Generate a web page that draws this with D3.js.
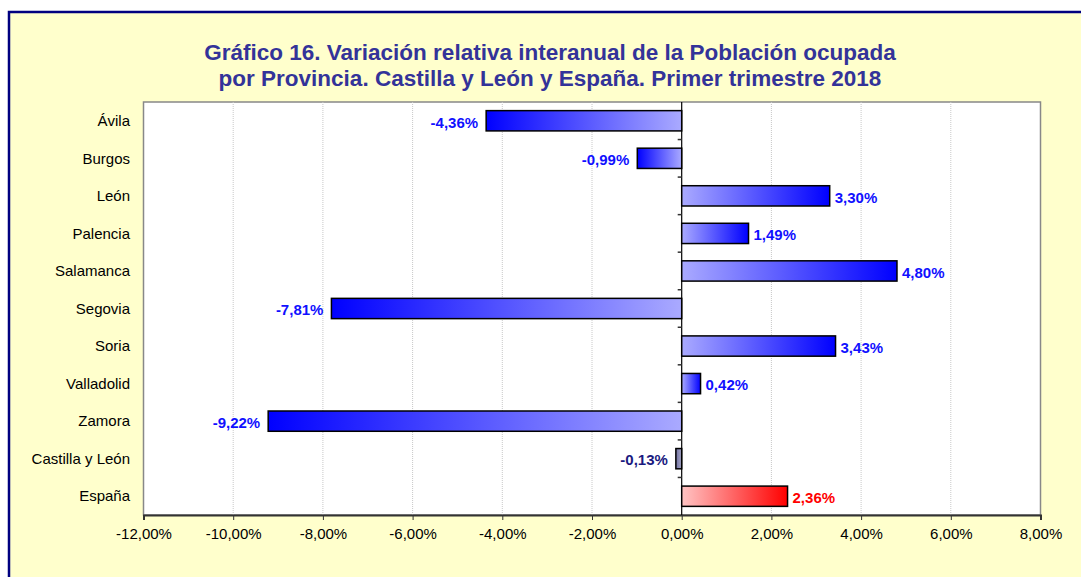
<!DOCTYPE html>
<html><head><meta charset="utf-8">
<script src="https://cdn.jsdelivr.net/npm/d3@7"></script>
<style>body{margin:0;background:#fff}svg{display:block;font-family:"Liberation Sans",Arial,sans-serif}</style>
</head><body>
<svg id="c" width="1081" height="577"></svg>
<script>
const categories = ["Ávila","Burgos","León","Palencia","Salamanca","Segovia","Soria","Valladolid","Zamora","Castilla y León","España"];
const values = [-4.36,-0.99,3.30,1.49,4.80,-7.81,3.43,0.42,-9.22,-0.13,2.36];
const tickValues = [-12,-10,-8,-6,-4,-2,0,2,4,6,8];
const titleLines = ["Gráfico 16. Variación relativa interanual de la Población ocupada","por Provincia. Castilla y León y España. Primer trimestre 2018"];

const svg = d3.select("#c");
const fmt = v => d3.format(".2f")(v).replace(".", ",").replace("\u2212","-") + "%";

// background frame
svg.append("rect").attr("x",9).attr("y",12).attr("width",1090).attr("height",600)
  .attr("fill","#FFFFCC").attr("stroke","#000080").attr("stroke-width",2.5);

// title
svg.append("g").selectAll("text").data(titleLines).join("text")
  .attr("x",550).attr("y",(d,i)=>60+i*26).attr("text-anchor","middle")
  .attr("font-size",22.5).attr("font-weight","bold").attr("fill","#333399").text(d=>d);

const L=143.5, R=1040.5, T=102, B=515;
const x = d3.scaleLinear().domain([-12,8]).range([L,R]);
const y = d3.scaleBand().domain(categories).range([T,B]).paddingInner(0.46).paddingOuter(0.23);

svg.append("rect").attr("x",L).attr("y",T).attr("width",R-L).attr("height",B-T)
  .attr("fill","#fff").attr("stroke","#888").attr("stroke-width",1.5);

// grid
svg.append("g").selectAll("line").data(tickValues.filter(v=>v!==-12&&v!==8&&v!==0)).join("line")
  .attr("x1",d=>x(d)).attr("x2",d=>x(d)).attr("y1",T).attr("y2",B)
  .attr("stroke","#c8c8c8").attr("stroke-dasharray","1,1");

// gradients
const defs = svg.append("defs");
function grad(id, c0, c1){
  const g = defs.append("linearGradient").attr("id",id).attr("x1","0%").attr("x2","100%");
  g.append("stop").attr("offset","0%").attr("stop-color",c0);
  g.append("stop").attr("offset","100%").attr("stop-color",c1);
}
grad("neg","#0000FF","#AAAAFF");
grad("pos","#AAAAFF","#0000FF");
grad("cyl","#7070A0","#A8A8C8");
grad("esp","#FFC4C4","#FF0000");

const fillFor = (d,i) => categories[i]==="España" ? "url(#esp)" : categories[i]==="Castilla y León" ? "url(#cyl)" : (d<0?"url(#neg)":"url(#pos)");
const labelColor = (d,i) => categories[i]==="España" ? "#FF0000" : categories[i]==="Castilla y León" ? "#1A1A80" : "#1010FF";

// bottom axis
const xAxis = svg.append("g").attr("transform",`translate(0,${B})`)
  .call(d3.axisBottom(x).tickValues(tickValues).tickSize(5).tickFormat(d=>fmt(d)));
xAxis.select(".domain").attr("stroke","#333").attr("stroke-width",2);
xAxis.selectAll(".tick line").attr("stroke","#333");
xAxis.selectAll("text").attr("font-size",15).attr("fill","#000").attr("y",10).attr("dy","0.9em").attr("font-family","Liberation Sans, Arial");

// zero axis
const zero = x(0);
svg.append("line").attr("x1",zero).attr("x2",zero).attr("y1",T).attr("y2",B).attr("stroke","#000").attr("stroke-width",1.2);
const bandEdges = categories.map((c,i)=>T+i*(B-T)/categories.length).slice(1);
svg.append("g").selectAll("line").data(bandEdges).join("line")
  .attr("x1",zero-4).attr("x2",zero).attr("y1",d=>d).attr("y2",d=>d).attr("stroke","#333").attr("stroke-width",1.5);

// category labels
svg.append("g").selectAll("text").data(categories).join("text")
  .attr("x",130).attr("y",d=>y(d)+y.bandwidth()/2).attr("dy","0.35em")
  .attr("text-anchor","end").attr("font-size",15).attr("fill","#000").text(d=>d);

// bars
svg.append("g").selectAll("rect").data(values).join("rect")
  .attr("x",d=>x(Math.min(0,d))).attr("y",(d,i)=>y(categories[i]))
  .attr("width",d=>Math.abs(x(d)-x(0))).attr("height",y.bandwidth())
  .attr("fill",fillFor).attr("stroke","#000").attr("stroke-width",1.5);

// value labels
svg.append("g").selectAll("text").data(values).join("text")
  .attr("x",d=>d<0?x(d)-8:x(d)+5).attr("y",(d,i)=>y(categories[i])+y.bandwidth()/2+1.5).attr("dy","0.35em")
  .attr("text-anchor",d=>d<0?"end":"start").attr("font-size",15).attr("font-weight","bold")
  .attr("fill",labelColor).text(d=>fmt(d));
</script>
</body></html>
